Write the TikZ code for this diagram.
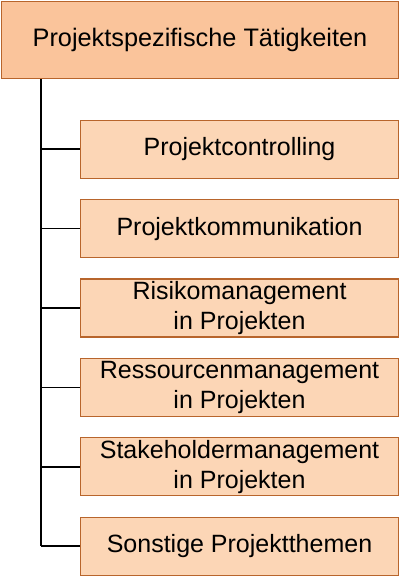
\documentclass[tikz,border=0pt]{standalone}
\usepackage{fontspec}
\setmainfont{Liberation Sans}
\definecolor{boxline}{RGB}{184,101,44}
\definecolor{topfill}{RGB}{250,196,155}
\definecolor{taskfill}{RGB}{252,214,182}
\begin{document}
\begin{tikzpicture}[x=1pt,y=-1pt,
  topbox/.style={draw=boxline, fill=topfill, line width=1.3pt, inner sep=0pt,
    minimum width=397pt, minimum height=77pt, font=\fontsize{25.3}{30}\selectfont},
  taskbox/.style={draw=boxline, fill=taskfill, line width=1.3pt, inner sep=0pt,
    minimum width=318pt, minimum height=58pt, align=center, font=\fontsize{25}{30}\selectfont},
  branch/.style={draw=black, line width=1.5pt}]
\useasboundingbox (0,0) rectangle (400,578);
\node[topbox] (top) at (200,40) {Projektspezifische Tätigkeiten};
\coordinate (trunk) at ([xshift=40pt]top.south west);
\foreach \name/\txt [count=\i] in {ctrl/Projektcontrolling, komm/Projektkommunikation,
    risk/Risikomanagement\\in Projekten, res/Ressourcenmanagement\\in Projekten,
    stake/Stakeholdermanagement\\in Projekten, misc/Sonstige Projektthemen} {
  \node[taskbox] (\name) at (239.5,{149.2+79.4*(\i-1)}) {\txt};
  \draw[branch] (trunk |- \name.west) -- (\name.west);
}
\draw[branch] (trunk) -- (trunk |- misc.west);
\end{tikzpicture}
\end{document}
